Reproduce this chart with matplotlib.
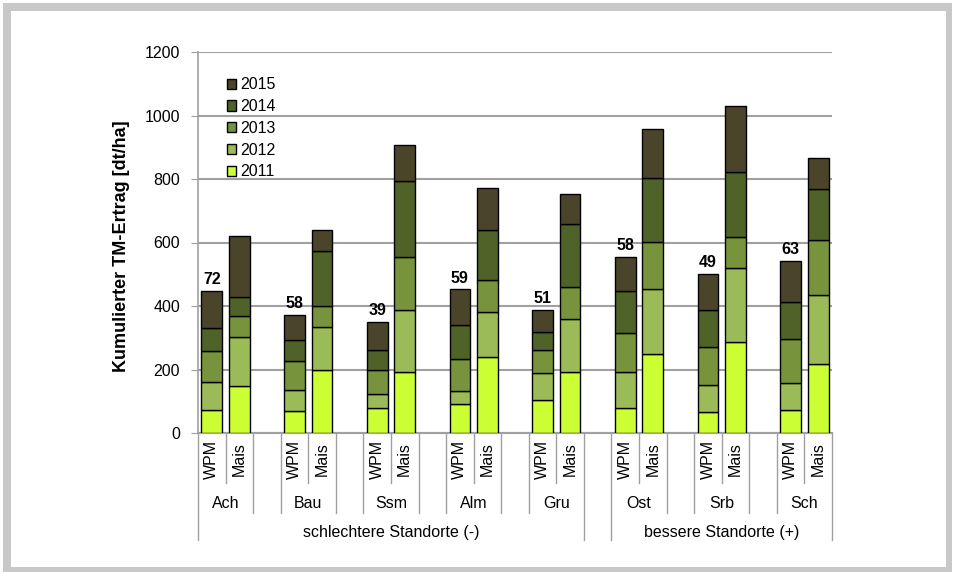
import numpy as np
import matplotlib
matplotlib.use('Agg')
import matplotlib.pyplot as plt
import matplotlib.patches as mpatches
from matplotlib.transforms import blended_transform_factory

plt.rcParams['font.family'] = ['Liberation Sans', 'DejaVu Sans']

## Data: cumulative yield per year (dt/ha)
sites = ['Ach', 'Bau', 'Ssm', 'Alm', 'Gru', 'Ost', 'Srb', 'Sch']
crops = ['WPM', 'Mais']
years = ['2011', '2012', '2013', '2014', '2015']
groups = ['schlechtere Standorte (-)', 'bessere Standorte (+)']
group_sizes = [5, 3]

# yearly increments, WPM
wpm_2011 = [72, 70, 79, 92, 105, 80, 66, 71]
wpm_2012 = [89, 67, 45, 40, 83, 113, 86, 86]
wpm_2013 = [97, 90, 73, 100, 72, 123, 119, 138]
wpm_2014 = [72, 65, 64, 107, 57, 131, 117, 118]
wpm_2015 = [117, 80, 89, 113, 71, 107, 112, 129]
# yearly increments, Mais
mais_2011 = [147, 197, 191, 239, 192, 248, 287, 216]
mais_2012 = [154, 136, 197, 143, 166, 204, 232, 218]
mais_2013 = [67, 68, 167, 99, 101, 151, 97, 174]
mais_2014 = [61, 172, 240, 158, 199, 200, 207, 161]
mais_2015 = [191, 67, 113, 132, 95, 153, 207, 96]
# number above the WPM bars
wpm_labels = [72, 58, 39, 59, 51, 58, 49, 63]

colors = ['#CCFF33', '#9BBB59', '#77933C', '#4F6228', '#4A452A']
fs = 11.5

W, H = 957, 574
fig = plt.figure(figsize=(W / 100, H / 100), dpi=100)
fig.patch.set_facecolor('white')

def fx(px):
    return px / W

def fy(py):
    return 1 - py / H

## grey frame
fig.patches.append(mpatches.Rectangle((fx(3), fy(572)), fx(949), 569 / H, transform=fig.transFigure,
                                      facecolor='#C8C8C8', edgecolor='none', zorder=-10))
fig.patches.append(mpatches.Rectangle((fx(11), fy(567)), fx(935), 556 / H, transform=fig.transFigure,
                                      facecolor='white', edgecolor='none', zorder=-9))

ax = fig.add_axes([fx(198), fy(433), fx(832 - 198), (433 - 52) / H])
ax.set_facecolor('none')

# slot positions: WPM, Mais, blank ... (last group without blank)
x_wpm = np.arange(len(sites)) * 3
x_mais = x_wpm + 1
bw = 0.75

wpm = [wpm_2011, wpm_2012, wpm_2013, wpm_2014, wpm_2015]
mais = [mais_2011, mais_2012, mais_2013, mais_2014, mais_2015]
bot_w = np.zeros(len(sites))
bot_m = np.zeros(len(sites))
for i in range(len(years)):
    ax.bar(x_wpm, wpm[i], bw, bottom=bot_w, color=colors[i], edgecolor='black', linewidth=1, zorder=3)
    ax.bar(x_mais, mais[i], bw, bottom=bot_m, color=colors[i], edgecolor='black', linewidth=1, zorder=3)
    bot_w += np.array(wpm[i])
    bot_m += np.array(mais[i])

for x, top, lab in zip(x_wpm, bot_w, wpm_labels):
    ax.text(x, top + 12, str(lab), ha='center', va='bottom', fontsize=fs, fontweight='bold')

ax.set_xlim(-0.5, 22.5)
ax.set_ylim(0, 1200)
ax.set_yticks(range(0, 1201, 200))
ax.tick_params(axis='y', length=5, color='#A0A0A0', labelsize=fs, pad=8)
ax.tick_params(axis='x', length=0, labelbottom=False)
ax.yaxis.grid(True, color='#A0A0A0', linewidth=1.5, zorder=0)
for s in ['top', 'right']:
    ax.spines[s].set_visible(False)
ax.spines['left'].set_color('#A0A0A0')
ax.spines['bottom'].set_color('#A0A0A0')
ax.spines['left'].set_linewidth(1.2)
ax.spines['bottom'].set_linewidth(1.5)

fig.text(fx(121), fy(246), 'Kumulierter TM-Ertrag [dt/ha]', rotation=90, ha='center', va='center',
         fontsize=13, fontweight='bold')

## multi level category axis
tr = blended_transform_factory(ax.transData, fig.transFigure)
lvl3 = [-0.5]
acc = 0
for n in group_sizes:
    acc += n
    lvl3 += [acc * 3 - 3 + 1.5, acc * 3 - 0.5]
lvl3 = lvl3[:-1] + [22.5]
lvl2 = set()
for x in x_wpm:
    lvl2.add(x - 0.5)
    lvl2.add(x + 1.5)
for b in np.arange(-0.5, 23, 1.0):
    if any(abs(b - v) < 0.01 for v in lvl3):
        y_end = 540
    elif b in lvl2:
        y_end = 513
    else:
        y_end = 483
    ax.plot([b, b], [fy(433), fy(y_end)], color='#A0A0A0', linewidth=1, transform=tr, clip_on=False)

for x in x_wpm:
    ax.text(x, fy(459), 'WPM', rotation=90, ha='center', va='center', fontsize=fs, transform=tr)
    ax.text(x + 1, fy(459), 'Mais', rotation=90, ha='center', va='center', fontsize=fs, transform=tr)
for x, s in zip(x_wpm, sites):
    ax.text(x + 0.5, fy(503), s, ha='center', va='center', fontsize=fs, transform=tr)
start = 0
for g, n in zip(groups, group_sizes):
    x0 = start * 3 - 0.5
    x1 = (start + n - 1) * 3 + 1.5
    ax.text((x0 + x1) / 2, fy(532), g, ha='center', va='center', fontsize=fs, transform=tr)
    start += n

## legend
handles = [mpatches.Patch(facecolor=colors[i], edgecolor='black', label=years[i]) for i in range(len(years))][::-1]
ax.legend(handles=handles, loc='upper left', bbox_to_anchor=(0.035, 0.95), frameon=False, fontsize=fs,
          handlelength=0.6, handleheight=0.6, handletextpad=0.25, labelspacing=0.42, borderaxespad=0)

plt.savefig('out.png', dpi=100)
